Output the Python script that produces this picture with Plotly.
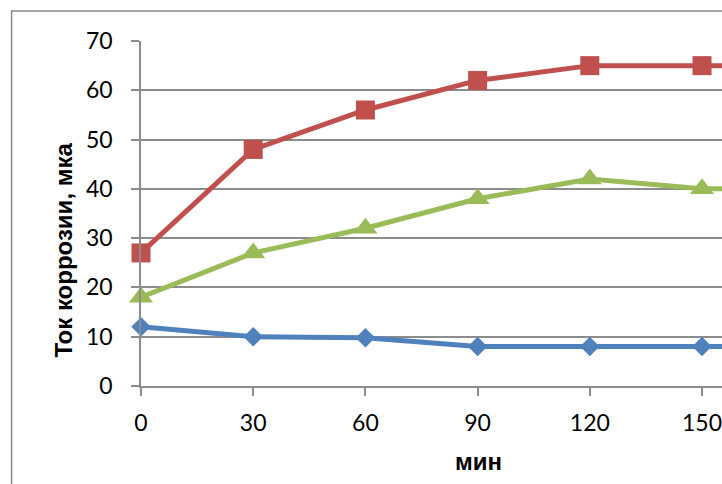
import plotly.graph_objects as go

# Corrosion current vs. time
minutes = [0, 30, 60, 90, 120, 150, 180]
series_blue = [12, 10, 9.8, 8, 8, 8, 8]
series_red = [27, 48, 56, 62, 65, 65, 65]
series_green = [18, 27, 32, 38, 42, 40, 40]

x_ticks = [0, 30, 60, 90, 120, 150]
y_ticks = [0, 10, 20, 30, 40, 50, 60, 70]

W, H = 722, 484
L, R, T, B = 140.5, 0, 41, 98
pw, ph = W - L - R, H - T - B


def px_x(p):
    return (p - L) / pw


def px_y(p):
    return (H - B - p) / ph


fig = go.Figure()
fig.add_trace(go.Scatter(
    x=minutes, y=series_blue, mode="lines+markers", cliponaxis=False,
    line=dict(color="#4F81BD", width=5),
    marker=dict(symbol="diamond", size=15, color="#4F81BD"),
))
fig.add_trace(go.Scatter(
    x=minutes, y=series_red, mode="lines+markers", cliponaxis=False,
    line=dict(color="#C0504D", width=5),
    marker=dict(symbol="square", size=19, color="#C0504D"),
))
fig.add_trace(go.Scatter(
    x=minutes, y=series_green, mode="lines+markers", cliponaxis=False,
    line=dict(color="#9BBB59", width=5),
    marker=dict(symbol="triangle-up", size=21, color="#9BBB59"),
))

grid = "#8C8C8C"
tick_font = dict(family="Lato", size=23, color="#000000")

fig.update_xaxes(
    range=[0, (W - L) * 30 / 112.3],
    tickvals=x_ticks, ticktext=[str(v) for v in x_ticks],
    showgrid=False, zeroline=False,
    showline=True, linecolor=grid, linewidth=1.5,
    ticks="outside", ticklen=8, tickcolor=grid, tickwidth=1.5,
    tickfont=tick_font, ticklabelstandoff=8, ticklabeloverflow="allow",
)
fig.update_yaxes(
    range=[0, 70], tickvals=y_ticks, ticktext=[str(v) for v in y_ticks],
    showgrid=True, gridcolor=grid, gridwidth=1.5, zeroline=False,
    showline=True, linecolor=grid, linewidth=1.5,
    ticks="outside", ticklen=8, tickcolor=grid, tickwidth=1.5,
    tickfont=tick_font, ticklabelstandoff=14,
)

title_font = dict(family="Liberation Sans", size=24, color="#000000")
fig.add_annotation(
    text="<b>Ток коррозии, мка</b>", textangle=-90, showarrow=False,
    xref="paper", yref="paper", x=px_x(62), y=px_y(250),
    xanchor="center", yanchor="middle", font=title_font,
)
fig.add_annotation(
    text="<b>мин</b>", showarrow=False,
    xref="paper", yref="paper", x=px_x(478), y=px_y(462),
    xanchor="center", yanchor="middle", font=title_font,
)

# outer chart frame
fig.add_shape(
    type="rect", xref="paper", yref="paper",
    x0=px_x(11), x1=px_x(W + 20), y0=px_y(H + 20), y1=px_y(11),
    line=dict(color="#878787", width=1.5), fillcolor="rgba(0,0,0,0)",
    layer="below",
)

fig.update_layout(
    width=W, height=H, showlegend=False,
    margin=dict(l=L, r=R, t=T, b=B, pad=0),
    paper_bgcolor="#FFFFFF", plot_bgcolor="#FFFFFF",
)

fig.write_html("out.html")
